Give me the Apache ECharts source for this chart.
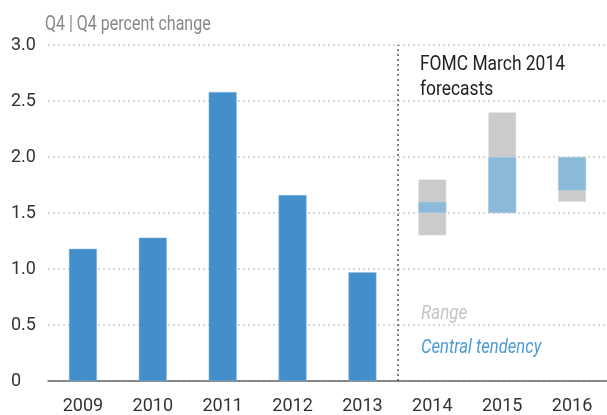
<!DOCTYPE html>
<html>
<head>
<meta charset="utf-8">
<script src="https://cdn.jsdelivr.net/npm/echarts@6/dist/echarts.min.js"></script>
<style>
html, body { margin: 0; padding: 0; background: #fff; }
#chart { width: 607px; height: 415px; }
</style>
</head>
<body>
<div id="chart"></div>
<script>
// 数据
var years = ['2009', '2010', '2011', '2012', '2013', '2014', '2015', '2016'];
var actual = [1.18, 1.28, 2.58, 1.66, 0.97, '-', '-', '-'];
var rangeLow = ['-', '-', '-', '-', '-', 1.3, 1.5, 1.6];
var rangeHigh = ['-', '-', '-', '-', '-', 1.8, 2.4, 2.0];
var centralLow = ['-', '-', '-', '-', '-', 1.5, 1.5, 1.7];
var centralHigh = ['-', '-', '-', '-', '-', 1.6, 2.0, 2.0];
var yTicks = ['0', '0.5', '1.0', '1.5', '2.0', '2.5', '3.0'];
var firstForecast = 5; // 2014 起为预测

var FONT = "Roboto, sans-serif";

function diff(hi, lo) {
	return hi.map(function(v, i) {
		return v === '-' ? '-' : +(v - lo[i]).toFixed(2);
	});
}

// 窄字体用 scaleX 模拟
function label(text, x, y, font, color, sx) {
	return {
		type : 'text',
		x : x,
		y : y,
		scaleX : sx,
		silent : true,
		style : {
			text : text,
			font : font,
			fill : color,
			lineHeight : 25,
			verticalAlign : 'top'
		}
	};
}

function drawForecastChart(domElement) {
	var myChart = echarts.init(domElement);
	var option = {
		animation : false,
		textStyle : { fontFamily : FONT },
		grid : {
			left : 48,
			right : 0,
			top : 45,
			bottom : 34
		},
		xAxis : [ {
			type : 'category',
			data : years,
			axisTick : { show : false },
			axisLine : { lineStyle : { color : '#666', width : 1.5 } },
			axisLabel : {
				fontFamily : FONT,
				fontSize : 18,
				color : '#333',
				margin : 16
			}
		}, {
			// 辅助轴：用于画预测分隔线
			type : 'value',
			min : 0,
			max : years.length,
			show : false
		} ],
		yAxis : {
			type : 'value',
			min : 0,
			max : 3,
			interval : 0.5,
			axisLine : { show : false },
			axisTick : { show : false },
			splitLine : {
				lineStyle : { type : [2, 3], color : '#ccc', width : 1.5 }
			},
			axisLabel : {
				fontFamily : FONT,
				fontSize : 18,
				color : '#333',
				align : 'left',
				margin : 37,
				formatter : function(v) {
					return yTicks[Math.round(v * 2)];
				}
			}
		},
		graphic : [
			label('Q4 | Q4 percent change', 45, 12, '20px ' + FONT, '#888', 0.8),
			label('FOMC March 2014\nforecasts', 420, 52, '20px ' + FONT, '#222', 0.87),
			label('Range', 421, 301, 'italic 20px ' + FONT, '#c4c4c4', 0.85),
			label('Central tendency', 421, 335, 'italic 20px ' + FONT, '#4a9ad6', 0.83)
		],
		series : [ {
			type : 'bar',
			stack : 'r',
			barWidth : 28,
			barGap : '-100%',
			data : actual,
			itemStyle : { color : '#428fcb', borderColor : '#8cb8dc', borderWidth : 0.5 }
		}, {
			type : 'bar',
			stack : 'r',
			barWidth : 28,
			data : rangeLow,
			itemStyle : { color : 'transparent' }
		}, {
			type : 'bar',
			stack : 'r',
			barWidth : 28,
			data : diff(rangeHigh, rangeLow),
			itemStyle : { color : '#cbcbcb', borderColor : '#e6e6e6', borderWidth : 0.5 }
		}, {
			type : 'bar',
			stack : 'c',
			barWidth : 28,
			barGap : '-100%',
			data : centralLow,
			itemStyle : { color : 'transparent' }
		}, {
			type : 'bar',
			stack : 'c',
			barWidth : 28,
			barGap : '-100%',
			data : diff(centralHigh, centralLow),
			itemStyle : { color : '#8bbad8', borderColor : '#b5d3e6', borderWidth : 0.5 }
		}, {
			type : 'line',
			xAxisIndex : 1,
			data : [],
			silent : true,
			markLine : {
				silent : true,
				symbol : 'none',
				animation : false,
				label : { show : false },
				lineStyle : { type : [2, 3], color : '#555', width : 1.5 },
				data : [ { xAxis : firstForecast } ]
			}
		} ]
	};
	myChart.setOption(option);
	return myChart;
}

drawForecastChart(document.getElementById('chart'));
</script>
</body>
</html>
